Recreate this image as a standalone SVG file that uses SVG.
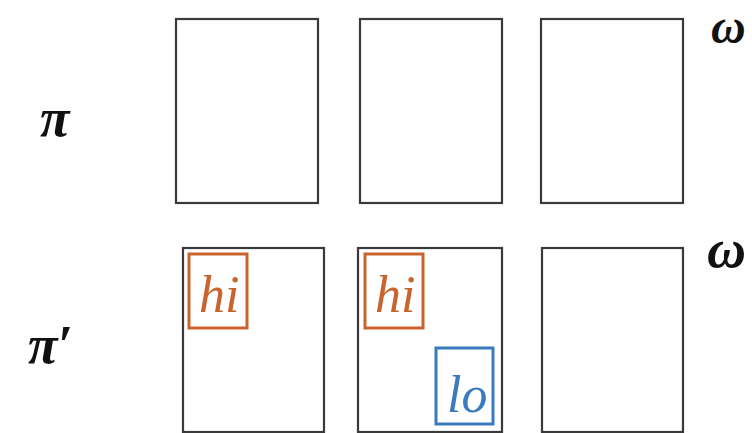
<svg xmlns="http://www.w3.org/2000/svg" width="752" height="433" viewBox="0 0 752 433">
<style>
.frame{fill:#fff;stroke:#3a3a3a;stroke-width:2.2}
.sym{font-family:"Liberation Serif","DejaVu Serif",serif;font-style:italic;font-weight:bold;fill:#111}
.hi{fill:none;stroke:#c8642c;stroke-width:3}
.lo{fill:none;stroke:#3a7bbf;stroke-width:3}
.lbl{font-family:"Liberation Serif","DejaVu Serif",serif;font-style:italic;font-size:52px}
</style>
<rect width="752" height="433" fill="#fff"/>
<g id="row-pi">
<text class="sym" x="40" y="136" font-size="54">π</text>
</g>
<g id="row-pi-prime">
<text class="sym" x="28" y="363" font-size="54">π′</text>
</g>
<g id="omega-top"><text class="sym" x="711" y="43" font-size="48">ω</text></g>
<g id="omega-bottom"><text class="sym" x="707" y="267" font-size="54">ω</text></g>
<g id="top-1"><rect class="frame" x="176" y="19" width="142" height="184"/></g>
<g id="top-2"><rect class="frame" x="360" y="19" width="142" height="184"/></g>
<g id="top-3"><rect class="frame" x="541" y="19" width="142" height="184"/></g>
<g id="bottom-1">
<rect class="frame" x="183" y="248" width="141" height="184"/>
<rect class="hi" x="189" y="254" width="58" height="74"/>
<text class="lbl" x="199" y="312" fill="#c8642c">hi</text>
</g>
<g id="bottom-2">
<rect class="frame" x="358" y="248" width="144" height="184"/>
<rect class="hi" x="365" y="254" width="58" height="74"/>
<text class="lbl" x="375" y="312" fill="#c8642c">hi</text>
<rect class="lo" x="436" y="348" width="57" height="76"/>
<text class="lbl" x="447" y="412" fill="#3a7bbf">lo</text>
</g>
<g id="bottom-3"><rect class="frame" x="542" y="248" width="141" height="184"/></g>
<g id="connectors"></g>
</svg>
